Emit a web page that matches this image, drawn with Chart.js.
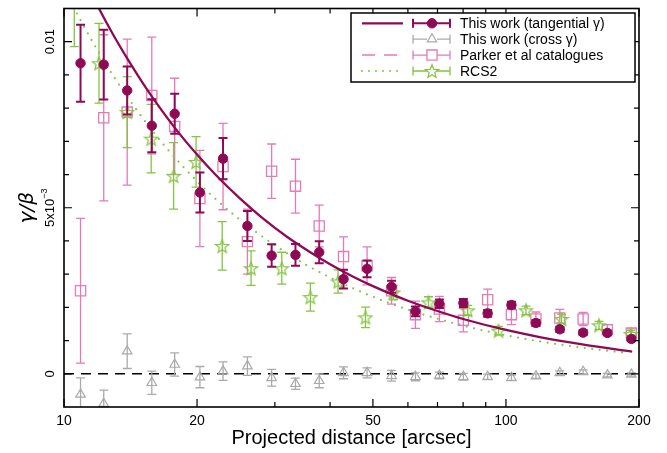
<!DOCTYPE html>
<html>
<head>
<meta charset="utf-8">
<script src="https://cdn.jsdelivr.net/npm/chart.js@4.4.1/dist/chart.umd.min.js"></script>
<style>
  html, body { margin: 0; padding: 0; background: #fff; }
</style>
</head>
<body>
<canvas id="shearChart" width="667" height="453"></canvas>
<script>
// radial bins (arcsec) shared by "this work" and Parker
const radii = [10.9, 12.3, 13.9, 15.8, 17.8, 20.3, 22.9, 26.0, 29.5, 33.4, 37.8, 42.9,
               48.5, 55.1, 62.4, 70.7, 80.1, 90.9, 102.9, 116.9, 132.4, 149.5, 169.6, 192.2];
// shear values in units of 1e-3
const tangential    = [9.35, 9.31, 8.53, 7.47, 7.83, 5.46, 6.48, 4.45, 3.56, 3.58, 3.66, 2.85,
                       3.16, 2.62, 1.88, 2.11, 2.13, 1.82, 2.07, 1.53, 1.34, 1.24, 1.23, 1.05];
const tangentialErr = [1.16, 1.05, 0.72, 0.80, 0.60, 0.60, 0.62, 0.45, 0.34, 0.33, 0.33, 0.28,
                       0.25, 0.18, 0.15, 0.13, 0.12, 0.10, 0.10, 0.09, 0.08, 0.07, 0.07, 0.07];
const cross         = [-0.62, -0.90, 0.68, -0.27, 0.28, -0.10, 0.08, 0.23, -0.12, -0.30, -0.21, 0.03,
                       0.03, -0.06, -0.09, -0.05, -0.09, -0.09, -0.12, -0.07, 0.03, 0.06, -0.04, -0.02];
const crossErr      = [0.50, 0.41, 0.52, 0.35, 0.35, 0.32, 0.28, 0.28, 0.25, 0.17, 0.21, 0.18,
                       0.15, 0.16, 0.12, 0.10, 0.10, 0.08, 0.08, 0.07, 0.06, 0.06, 0.05, 0.05];
const parker        = [2.50, 7.71, 7.88, 8.38, 7.45, 5.28, 6.24, 3.98, 6.10, 5.65, 4.45, 3.53,
                       3.25, 2.50, 1.78, 1.95, 1.61, 2.23, 1.78, 1.65, 1.68, 1.65, 1.33, 1.23];
const parkerErr     = [2.18, 2.50, 2.20, 1.76, 1.45, 1.45, 1.30, 0.98, 0.82, 0.81, 0.63, 0.59,
                       0.57, 0.40, 0.41, 0.38, 0.35, 0.32, 0.30, 0.21, 0.26, 0.20, 0.15, 0.12];

const radiiRCS2 = [10.55, 12.0, 13.9, 15.75, 17.7, 19.9, 22.8, 26.5, 31.1, 36.1,
                   41.7, 48.1, 55.6, 66.8, 81.9, 96.2, 111.0, 133.6, 162.4, 191.6];
const rcs2      = [11.3, 9.35, 7.88, 7.08, 5.96, 6.38, 3.85, 3.18, 3.18, 2.31,
                   2.78, 1.70, 2.45, 2.15, 1.91, 1.30, 1.91, 1.65, 1.46, 1.20];
const rcs2Err   = [1.45, 1.20, 1.07, 1.03, 1.00, 0.76, 0.73, 0.52, 0.48, 0.42,
                   0.35, 0.31, 0.22, 0.17, 0.15, 0.13, 0.13, 0.14, 0.12, 0.10];

// model curves
const modelRadii      = [11.8, 12, 13, 14, 15, 16, 18, 20, 22, 25, 28, 32, 36, 40, 45,
                         50, 60, 70, 80, 100, 120, 150, 193];
const modelTangential = [11.2, 11.0, 10.15, 9.43, 8.8, 8.25, 7.33, 6.6, 6.0, 5.28, 4.71, 4.12, 3.67, 3.30, 2.93,
                         2.64, 2.2, 1.89, 1.65, 1.32, 1.10, 0.88, 0.67];
const modelRadiiRCS2  = [10.5, 11, 12, 13, 14, 15, 17, 20, 23, 26.5, 30, 35, 40, 45,
                         50, 60, 70, 80, 100, 120, 150, 190];
const modelRCS2       = [11.05, 10.55, 9.67, 8.92, 8.29, 7.73, 6.82, 5.8, 5.04, 4.38, 3.87, 3.31, 2.90, 2.58,
                         2.32, 1.93, 1.66, 1.45, 1.16, 0.97, 0.78, 0.62];

const zeroLineX = [10, 200];
const zeroLineY = [0, 0];

const xMajorTicks = [10, 20, 50, 100, 200];
const xMinorTicks = [30, 40, 60, 70, 80, 90];
const yMajorTicks = [0, 0.005, 0.01];
const yMinorTicks = [0.001, 0.002, 0.003, 0.004, 0.006, 0.007, 0.008, 0.009];
const yTickLabels = ['0', '5x10^-3', '0.01'];

const legendLabels = ['This work (tangential \u03b3)', 'This work (cross \u03b3)',
                      'Parker et al catalogues', 'RCS2'];

const magenta = '#8e0a55';
const pink = '#e27bb8';
const green = '#84c441';
const grey = '#aaaaaa';

function pts(xs, ys) {
    return xs.map((x, i) => ({ x: x, y: ys[i] * 1e-3 }));
}

// open five pointed star used for RCS2
function starImage(color, size) {
    const c = document.createElement('canvas');
    c.width = size; c.height = size;
    const g = c.getContext('2d');
    const r = size / 2 - 1, r2 = r * 0.42, cx = size / 2, cy = size / 2 + 0.7;
    g.beginPath();
    for (let i = 0; i < 10; i++) {
        const a = -Math.PI / 2 + i * Math.PI / 5;
        const rr = i % 2 ? r2 : r;
        g.lineTo(cx + rr * Math.cos(a), cy + rr * Math.sin(a));
    }
    g.closePath();
    g.strokeStyle = color;
    g.lineWidth = 1.2;
    g.stroke();
    return c;
}
const star = starImage(green, 16);

// vertical error bars, drawn just before the markers of each dataset
const errorBars = {
    id: 'errorBars',
    beforeDatasetDraw(chart, args) {
        const ds = chart.data.datasets[args.index];
        if (!ds.errors) return;
        const ctx = chart.ctx, a = chart.chartArea, ys = chart.scales.y;
        ctx.save();
        ctx.beginPath();
        ctx.rect(a.left, a.top, a.right - a.left, a.bottom - a.top);
        ctx.clip();
        ctx.strokeStyle = ds.borderColor;
        ctx.lineWidth = ds.errorWidth;
        args.meta.data.forEach((p, i) => {
            const v = ds.data[i].y, e = ds.errors[i] * 1e-3;
            const y1 = ys.getPixelForValue(v + e), y2 = ys.getPixelForValue(v - e);
            ctx.beginPath();
            ctx.moveTo(p.x, y1); ctx.lineTo(p.x, y2);
            ctx.moveTo(p.x - 4.5, y1); ctx.lineTo(p.x + 4.5, y1);
            ctx.moveTo(p.x - 4.5, y2); ctx.lineTo(p.x + 4.5, y2);
            ctx.stroke();
        });
        ctx.restore();
    }
};

// box, inward ticks, rotated y labels and the legend
const frame = {
    id: 'frame',
    afterDraw(chart) {
        const ctx = chart.ctx, a = chart.chartArea;
        const xs = chart.scales.x, ys = chart.scales.y;
        ctx.save();
        ctx.strokeStyle = '#000';
        ctx.lineWidth = 1.6;
        ctx.strokeRect(a.left, a.top, a.right - a.left, a.bottom - a.top);

        ctx.lineWidth = 1.2;
        ctx.beginPath();
        const xTick = (v, len) => {
            const px = xs.getPixelForValue(v);
            ctx.moveTo(px, a.bottom); ctx.lineTo(px, a.bottom - len);
            ctx.moveTo(px, a.top); ctx.lineTo(px, a.top + len);
        };
        const yTick = (v, len) => {
            const py = ys.getPixelForValue(v);
            ctx.moveTo(a.left, py); ctx.lineTo(a.left + len, py);
            ctx.moveTo(a.right, py); ctx.lineTo(a.right - len, py);
        };
        xMajorTicks.forEach(v => xTick(v, 8));
        xMinorTicks.forEach(v => xTick(v, 5));
        yMajorTicks.forEach(v => yTick(v, 8));
        yMinorTicks.forEach(v => yTick(v, 5));
        ctx.stroke();

        // y tick labels, rotated
        ctx.fillStyle = '#000';
        yMajorTicks.forEach((v, i) => {
            const py = ys.getPixelForValue(v);
            const parts = yTickLabels[i].split('^');
            ctx.save();
            ctx.translate(50, py);
            ctx.rotate(-Math.PI / 2);
            ctx.textBaseline = 'middle';
            ctx.textAlign = 'left';
            ctx.font = '13px "Liberation Sans", Arial, sans-serif';
            const w1 = ctx.measureText(parts[0]).width;
            let w2 = 0;
            if (parts[1]) {
                ctx.font = '9px "Liberation Sans", Arial, sans-serif';
                w2 = ctx.measureText(parts[1].replace('-', '\u2212')).width;
            }
            const x0 = -(w1 + w2) / 2;
            ctx.font = '13px "Liberation Sans", Arial, sans-serif';
            ctx.fillText(parts[0], x0, 0);
            if (parts[1]) {
                ctx.font = '9px "Liberation Sans", Arial, sans-serif';
                ctx.fillText(parts[1].replace('-', '\u2212'), x0 + w1, -5);
            }
            ctx.restore();
        });

        // legend
        const lx = 351, ly = 13, lw = 284, lh = 69;
        ctx.fillStyle = '#fff';
        ctx.fillRect(lx, ly, lw, lh);
        ctx.strokeStyle = '#000';
        ctx.lineWidth = 1.5;
        ctx.strokeRect(lx, ly, lw, lh);
        const sets = chart.data.datasets;
        const entries = [sets[0], sets[3], sets[2], sets[4]];
        entries.forEach((ds, i) => {
            const ry = 23.3 + i * 15.9;
            ctx.save();
            // line sample
            ctx.beginPath();
            if (i === 0) {
                ctx.strokeStyle = magenta; ctx.lineWidth = 2.2; ctx.setLineDash([]);
            } else if (i === 2) {
                ctx.strokeStyle = pink; ctx.lineWidth = 1.5; ctx.setLineDash([13, 9]);
            } else if (i === 3) {
                ctx.strokeStyle = green; ctx.lineWidth = 2; ctx.lineCap = 'round'; ctx.setLineDash([0, 7]);
            }
            if (i !== 1) {
                ctx.moveTo(362, ry); ctx.lineTo(403, ry); ctx.stroke();
            }
            ctx.setLineDash([]);
            ctx.lineCap = 'butt';
            // error bar sample
            ctx.strokeStyle = ds.borderColor;
            ctx.lineWidth = ds.errorWidth;
            ctx.beginPath();
            ctx.moveTo(413, ry); ctx.lineTo(450, ry);
            ctx.moveTo(413, ry - 4.5); ctx.lineTo(413, ry + 4.5);
            ctx.moveTo(450, ry - 4.5); ctx.lineTo(450, ry + 4.5);
            ctx.stroke();
            // marker
            ctx.fillStyle = ds.pointBackgroundColor;
            ctx.strokeStyle = ds.borderColor;
            ctx.lineWidth = ds.pointBorderWidth;
            if (i > 0) {
                ctx.fillStyle = '#fff';
                ctx.beginPath(); ctx.arc(432, ry, 5, 0, Math.PI * 2); ctx.fill();
                ctx.fillStyle = 'rgba(0,0,0,0)';
            }
            Chart.helpers.drawPoint(ctx, {
                pointStyle: ds.pointStyle, radius: ds.pointRadius, rotation: 0,
                borderWidth: ds.pointBorderWidth
            }, 432, ry);
            // text
            ctx.fillStyle = '#000';
            ctx.font = '14px "Liberation Sans", Arial, sans-serif';
            ctx.textBaseline = 'middle';
            ctx.textAlign = 'left';
            ctx.fillText(legendLabels[i], 460, ry + 1);
            ctx.restore();
        });
        ctx.restore();
    }
};

const ctx = document.getElementById('shearChart').getContext('2d');
const shearChart = new Chart(ctx, {
    type: 'scatter',
    data: {
        datasets: [{
            label: legendLabels[0],
            data: pts(radii, tangential),
            errors: tangentialErr,
            errorWidth: 2,
            pointStyle: 'circle',
            pointRadius: 4.7,
            pointBorderWidth: 1,
            pointBackgroundColor: magenta,
            borderColor: magenta,
            backgroundColor: magenta,
            order: 0,
            clip: 0
        }, {
            label: 'tangential model',
            data: pts(modelRadii, modelTangential),
            showLine: true,
            borderColor: magenta,
            borderWidth: 2.3,
            pointRadius: 0,
            tension: 0.3,
            cubicInterpolationMode: 'monotone',
            order: 1
        }, {
            label: legendLabels[2],
            data: pts(radii, parker),
            errors: parkerErr,
            errorWidth: 1.3,
            pointStyle: 'rect',
            pointRadius: 7.2,
            pointBorderWidth: 1.3,
            pointBackgroundColor: 'rgba(0,0,0,0)',
            borderColor: pink,
            backgroundColor: 'rgba(0,0,0,0)',
            order: 3,
            clip: 0
        }, {
            label: legendLabels[1],
            data: pts(radii, cross),
            errors: crossErr,
            errorWidth: 1.3,
            pointStyle: 'triangle',
            pointRadius: 5.5,
            pointBorderWidth: 1.2,
            pointBackgroundColor: 'rgba(0,0,0,0)',
            borderColor: grey,
            backgroundColor: 'rgba(0,0,0,0)',
            order: 5,
            clip: 0
        }, {
            label: legendLabels[3],
            data: pts(radiiRCS2, rcs2),
            errors: rcs2Err,
            errorWidth: 1.3,
            pointStyle: star,
            pointRadius: 7,
            pointBorderWidth: 1.2,
            pointBackgroundColor: 'rgba(0,0,0,0)',
            borderColor: green,
            backgroundColor: 'rgba(0,0,0,0)',
            order: 2,
            clip: 0
        }, {
            label: 'RCS2 model',
            data: pts(modelRadiiRCS2, modelRCS2),
            showLine: true,
            borderColor: green,
            borderWidth: 2.2,
            borderDash: [0, 7.5],
            borderCapStyle: 'round',
            pointRadius: 0,
            tension: 0.3,
            cubicInterpolationMode: 'monotone',
            order: 4
        }, {
            label: 'zero',
            data: pts(zeroLineX, zeroLineY),
            showLine: true,
            borderColor: '#000',
            borderWidth: 1.5,
            borderDash: [10, 7],
            pointRadius: 0,
            order: 6
        }]
    },
    options: {
        responsive: false,
        animation: false,
        events: [],
        layout: { padding: { top: 6, right: 28, left: 0, bottom: 0 } },
        plugins: {
            legend: { display: false },
            tooltip: { enabled: false }
        },
        scales: {
            x: {
                type: 'logarithmic',
                position: 'bottom',
                min: 10,
                max: 200,
                grid: { display: false, drawTicks: false },
                border: { display: false },
                afterBuildTicks: (scale) => {
                    scale.ticks = xMajorTicks.map(v => ({ value: v }));
                },
                afterFit: (scale) => { scale.height = 46; },
                ticks: {
                    autoSkip: false,
                    maxRotation: 0,
                    padding: 6,
                    color: '#000',
                    font: { family: '"Liberation Sans", Arial, sans-serif', size: 14 },
                    callback: (v) => String(v)
                },
                title: {
                    display: true,
                    text: 'Projected distance [arcsec]',
                    color: '#000',
                    font: { family: '"Liberation Sans", Arial, sans-serif', size: 20 },
                    padding: { top: 0, bottom: 3 }
                }
            },
            y: {
                min: -0.001,
                max: 0.011,
                grid: { display: false, drawTicks: false },
                border: { display: false },
                ticks: { display: false },
                afterFit: (scale) => { scale.width = 64; },
                title: {
                    display: true,
                    text: '\u03b3/\u03b2',
                    color: '#000',
                    font: { family: '"DejaVu Sans", sans-serif', size: 20, style: 'italic' },
                    padding: { top: 16, bottom: 0 }
                }
            }
        }
    },
    plugins: [errorBars, frame]
});
</script>
</body>
</html>
